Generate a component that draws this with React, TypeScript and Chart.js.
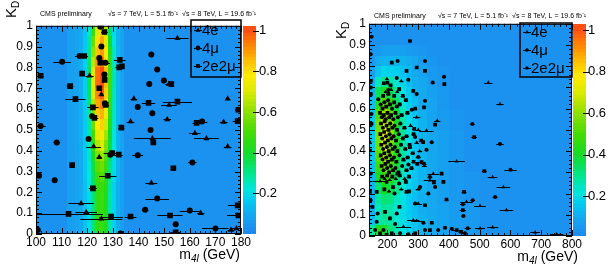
import React, { useEffect, useRef } from "react";
import { Chart, registerables } from "chart.js";
Chart.register(...registerables);

const FONT = "'Liberation Sans', Arial, Helvetica, sans-serif";

type Pt = [number, number, number]; // m4l, KD, m4l error

// ---------------- shared data ----------------
const seriesLabels = ["4e", "4\u03bc", "2e2\u03bc"];
const kdTicks = [0, 0.1, 0.2, 0.3, 0.4, 0.5, 0.6, 0.7, 0.8, 0.9, 1];
const cbTicks = [0.2, 0.4, 0.6, 0.8, 1];
const kdEdges = [0, 0.05, 0.1, 0.15, 0.2, 0.25, 0.3, 0.35, 0.4, 0.45, 0.5, 0.55, 0.6, 0.65, 0.7, 0.75, 0.8, 0.85, 0.9, 0.95, 1];
const headerLeft = "CMS preliminary";
const headerRight = "\u221as = 7 TeV, L = 5.1 fb\u207b\u00b9  \u221as = 8 TeV, L = 19.6 fb\u207b\u00b9";

// ---------------- left panel: 100-180 GeV ----------------
const leftXTicks = [100, 110, 120, 130, 140, 150, 160, 170, 180];
const leftBgZ = 0.03;
const leftHeatXEdges = [112, 113.6, 115.2, 116.8, 118.4, 120, 121.6, 123.2, 124.8, 126.4, 128, 129.6, 131.2, 132.8, 134.4];
// rows from KD 0-0.05 (first) up to 0.95-1 (last)
const leftHeatZ = [
  [0.07, 0.07, 0.08, 0.1, 0.15, 0.2, 0.33, 0.45, 0.47, 0.42, 0.28, 0.18, 0.11, 0.07],
  [0.07, 0.07, 0.08, 0.1, 0.15, 0.2, 0.33, 0.45, 0.47, 0.42, 0.28, 0.18, 0.11, 0.07],
  [0.07, 0.07, 0.08, 0.1, 0.15, 0.2, 0.33, 0.45, 0.47, 0.42, 0.28, 0.18, 0.11, 0.07],
  [0.07, 0.07, 0.08, 0.1, 0.15, 0.2, 0.33, 0.45, 0.48, 0.42, 0.28, 0.18, 0.11, 0.07],
  [0.07, 0.07, 0.08, 0.1, 0.15, 0.21, 0.34, 0.46, 0.48, 0.43, 0.29, 0.18, 0.11, 0.07],
  [0.07, 0.07, 0.08, 0.1, 0.16, 0.22, 0.36, 0.48, 0.52, 0.45, 0.3, 0.19, 0.12, 0.07],
  [0.07, 0.07, 0.08, 0.1, 0.16, 0.23, 0.38, 0.52, 0.56, 0.48, 0.32, 0.2, 0.12, 0.07],
  [0.07, 0.07, 0.08, 0.1, 0.16, 0.24, 0.42, 0.58, 0.62, 0.52, 0.35, 0.2, 0.12, 0.07],
  [0.07, 0.07, 0.08, 0.11, 0.17, 0.26, 0.46, 0.65, 0.7, 0.58, 0.38, 0.22, 0.12, 0.08],
  [0.07, 0.07, 0.08, 0.11, 0.17, 0.27, 0.5, 0.72, 0.76, 0.63, 0.4, 0.22, 0.12, 0.08],
  [0.07, 0.07, 0.08, 0.11, 0.17, 0.28, 0.55, 0.78, 0.82, 0.68, 0.43, 0.24, 0.13, 0.08],
  [0.07, 0.07, 0.08, 0.11, 0.17, 0.3, 0.6, 0.83, 0.87, 0.73, 0.45, 0.25, 0.13, 0.08],
  [0.07, 0.07, 0.08, 0.11, 0.17, 0.32, 0.65, 0.88, 0.93, 0.78, 0.48, 0.25, 0.13, 0.08],
  [0.07, 0.07, 0.08, 0.11, 0.18, 0.34, 0.7, 0.93, 0.98, 0.82, 0.5, 0.26, 0.13, 0.08],
  [0.07, 0.07, 0.08, 0.11, 0.18, 0.35, 0.72, 0.96, 1.0, 0.85, 0.5, 0.27, 0.13, 0.08],
  [0.07, 0.07, 0.08, 0.11, 0.18, 0.35, 0.72, 0.96, 1.0, 0.85, 0.5, 0.27, 0.13, 0.08],
  [0.07, 0.07, 0.08, 0.11, 0.18, 0.33, 0.66, 0.9, 0.95, 0.8, 0.48, 0.26, 0.13, 0.08],
  [0.07, 0.07, 0.08, 0.11, 0.17, 0.3, 0.6, 0.84, 0.9, 0.75, 0.45, 0.25, 0.13, 0.08],
  [0.07, 0.07, 0.08, 0.1, 0.16, 0.28, 0.55, 0.8, 0.88, 0.72, 0.4, 0.22, 0.12, 0.08],
  [0.07, 0.07, 0.08, 0.1, 0.15, 0.25, 0.48, 0.7, 0.8, 0.65, 0.35, 0.2, 0.12, 0.08],
];
const left4e: Pt[] = [
  [155.2, 0.94, 4.4], [120.9, 0.76, 1.6], [151.9, 0.72, 1.5], [125.5, 0.67, 1.0], [138.2, 0.65, 1.3],
  [151.9, 0.62, 3.0], [151.2, 0.55, 1.5], [136.9, 0.54, 1.5], [173.2, 0.538, 1.5], [162.0, 0.484, 2.2],
  [166.5, 0.459, 4.8], [145.4, 0.459, 7.2], [122.5, 0.42, 2.9], [174.8, 0.42, 1.5], [124.7, 0.369, 1.0],
  [145.0, 0.245, 2.3], [117.6, 0.147, 4.9], [119.6, 0.105, 4.2], [125.5, 0.073, 8.2], [164.3, 0.1, 1.4],
  [176.1, 0.019, 1.3], [178.2, 0.027, 1.7], [174.8, 0.65, 1.0],
];
const left4mu: Pt[] = [
  [125.1, 0.995, 1.0], [125.5, 0.9, 0.8], [145.0, 0.8625, 0.8], [117.0, 0.855, 1.8], [124.7, 0.845, 0.8],
  [127.1, 0.823, 1.8], [110.2, 0.827, 3.4], [147.3, 0.79, 1.0], [126.7, 0.766, 1.0], [149.9, 0.737, 1.0],
  [144.2, 0.72, 0.8], [126.9, 0.628, 1.0], [139.7, 0.61, 1.0], [145.4, 0.58, 1.0], [121.9, 0.565, 1.0],
  [164.8, 0.54, 2.1], [101.8, 0.519, 2.0], [144.7, 0.5, 1.0], [120.5, 0.456, 0.8], [108.1, 0.44, 1.3],
  [129.0, 0.381, 1.0], [139.7, 0.378, 2.1], [161.0, 0.344, 1.6], [101.2, 0.28, 0.8], [107.3, 0.258, 0.8],
  [147.3, 0.17, 4.6], [142.6, 0.116, 1.3], [160.0, 0.1125, 3.9], [154.5, 0.047, 1.0], [133.0, 0.003, 1.0],
  [170.0, 0.027, 5.2], [100.7, 0.019, 0.8],
];
const left2e2mu: Pt[] = [
  [126.7, 0.97, 1.3], [118.8, 0.855, 1.5], [125.1, 0.823, 0.8], [132.7, 0.836, 2.3], [132.5, 0.8, 1.5],
  [133.5, 0.805, 1.0], [118.0, 0.77, 1.0], [126.8, 0.74, 0.8], [101.8, 0.76, 1.3], [152.8, 0.72, 1.0],
  [113.3, 0.71, 1.3], [124.7, 0.7, 0.8], [115.4, 0.648, 3.9], [155.2, 0.636, 5.7], [143.9, 0.63, 2.6],
  [127.2, 0.62, 1.3], [122.2, 0.608, 2.2], [179.0, 0.597, 1.3], [122.8, 0.558, 1.5], [162.7, 0.534, 1.6],
  [178.7, 0.542, 2.0], [133.3, 0.511, 1.2], [145.8, 0.44, 1.0], [129.7, 0.389, 3.3], [132.3, 0.381, 1.6],
  [114.1, 0.331, 1.0], [153.6, 0.316, 1.0], [128.0, 0.28, 3.4], [122.2, 0.219, 1.6], [178.7, 0.1375, 3.8],
  [112.7, 0.097, 13.4], [129.3, 0.084, 4.6], [136.9, 0.084, 2.3], [152.3, 0.089, 4.9], [179.0, 0.089, 4.5],
  [154.5, 0.008, 2.0],
];

// ---------------- right panel: 140-800 GeV ----------------
const rightXTicks = [200, 300, 400, 500, 600, 700, 800];
const rightBgZ = 0.03;
const rightHeatXEdges = [140, 160, 180, 200, 220, 240, 260, 280, 300, 330, 360, 400, 450, 500];
// rows from KD 0-0.05 (first) up to 0.95-1 (last)
const rightHeatZ = [
  [0.28, 0.42, 0.4, 0.32, 0.26, 0.21, 0.18, 0.15, 0.12, 0.1, 0.08, 0.06, 0.05],
  [0.14, 0.26, 0.29, 0.27, 0.23, 0.2, 0.17, 0.15, 0.12, 0.1, 0.08, 0.06, 0.05],
  [0.12, 0.25, 0.29, 0.27, 0.23, 0.2, 0.17, 0.14, 0.11, 0.09, 0.08, 0.06, 0.05],
  [0.12, 0.28, 0.33, 0.31, 0.25, 0.21, 0.17, 0.14, 0.11, 0.09, 0.07, 0.05, 0.04],
  [0.12, 0.33, 0.4, 0.37, 0.3, 0.23, 0.18, 0.15, 0.12, 0.09, 0.07, 0.05, 0.04],
  [0.13, 0.4, 0.47, 0.44, 0.34, 0.25, 0.19, 0.15, 0.12, 0.09, 0.07, 0.05, 0.04],
  [0.14, 0.47, 0.55, 0.5, 0.38, 0.27, 0.2, 0.16, 0.12, 0.09, 0.07, 0.05, 0.03],
  [0.15, 0.52, 0.62, 0.55, 0.41, 0.28, 0.21, 0.16, 0.12, 0.09, 0.07, 0.05, 0.03],
  [0.16, 0.56, 0.68, 0.58, 0.42, 0.29, 0.21, 0.16, 0.12, 0.09, 0.07, 0.05, 0.03],
  [0.16, 0.58, 0.72, 0.6, 0.43, 0.29, 0.21, 0.16, 0.12, 0.09, 0.07, 0.05, 0.03],
  [0.16, 0.56, 0.69, 0.58, 0.41, 0.28, 0.2, 0.16, 0.12, 0.08, 0.06, 0.04, 0.03],
  [0.15, 0.51, 0.61, 0.53, 0.38, 0.26, 0.19, 0.15, 0.11, 0.08, 0.06, 0.04, 0.03],
  [0.14, 0.44, 0.52, 0.45, 0.33, 0.23, 0.17, 0.14, 0.1, 0.08, 0.05, 0.03, 0.03],
  [0.12, 0.35, 0.41, 0.36, 0.28, 0.21, 0.16, 0.12, 0.1, 0.07, 0.05, 0.03, 0.03],
  [0.1, 0.25, 0.3, 0.27, 0.23, 0.18, 0.14, 0.11, 0.09, 0.06, 0.04, 0.03, 0.03],
  [0.07, 0.15, 0.19, 0.18, 0.17, 0.15, 0.13, 0.1, 0.08, 0.05, 0.04, 0.03, 0.03],
  [0.05, 0.1, 0.12, 0.12, 0.12, 0.12, 0.11, 0.09, 0.06, 0.04, 0.03, 0.03, 0.03],
  [0.04, 0.05, 0.07, 0.07, 0.07, 0.07, 0.06, 0.05, 0.04, 0.03, 0.03, 0.03, 0.03],
  [0.03, 0.03, 0.03, 0.03, 0.03, 0.03, 0.03, 0.03, 0.03, 0.03, 0.03, 0.03, 0.03],
  [0.03, 0.03, 0.03, 0.03, 0.03, 0.03, 0.03, 0.03, 0.03, 0.03, 0.03, 0.03, 0.03],
];
const right4e: Pt[] = [
  [528, 0.723, 13], [566, 0.622, 12], [425, 0.352, 27], [542, 0.278, 16], [577, 0.231, 22], [587, 0.122, 22],
  [501, 0.142, 19], [457, 0.161, 20], [542, 0.041, 18], [501, 0.036, 16], [680, 0.017, 16], [750, 0.008, 22],
  [349, 0.294, 18], [327, 0.497, 24], [176, 0.259, 25], [300, 0.153, 12], [284, 0.075, 20], [295, 0.072, 18],
  [252, 0.044, 25], [295, 0.559, 12], [362, 0.544, 10], [338, 0.2625, 20],
  [191, 0.27, 5], [207, 0.265, 6], [227, 0.27, 6], [256, 0.27, 7], [194, 0.68, 5], [212, 0.69, 6], [232, 0.68, 6],
  [198, 0.74, 5], [245, 0.73, 7], [205, 0.21, 6], [245, 0.22, 7], [300, 0.22, 8], [300, 0.5, 8], [305, 0.4, 8],
  [320, 0.33, 8], [275, 0.52, 7], [295, 0.44, 7],
];
const right4mu: Pt[] = [
  [148.7, 0.939, 4], [145.4, 0.856, 3], [476, 0.528, 8], [566, 0.434, 12], [600, 0.3125, 20], [550, 0.184, 8],
  [477, 0.169, 7], [445, 0.15, 9], [447, 0.094, 6], [461, 0.036, 10], [452, 0.0125, 10], [409, 0.034, 6],
  [355, 0.231, 6], [338, 0.278, 8], [319, 0.34, 8], [327, 0.406, 6], [344, 0.442, 6], [384, 0.75, 6],
  [347, 0.723, 6], [322, 0.825, 5], [268, 0.736, 5], [233, 0.825, 5], [230, 0.744, 5], [203, 0.6875, 5],
  [295, 0.669, 5], [322, 0.6375, 5], [279, 0.595, 6], [290, 0.466, 6], [300, 0.372, 8], [268, 0.3375, 6],
  [306, 0.231, 6], [238, 0.247, 6], [197, 0.255, 5], [223, 0.2, 5], [290, 0.153, 6], [333, 0.2, 6],
  [230, 0.106, 6], [168, 0.106, 5], [145, 0.169, 4], [146, 0.294, 4], [141, 0.442, 3], [148, 0.575, 4],
  [146, 0.7, 4], [170, 0.645, 5], [317, 0.0625, 6], [241, 0.0125, 6], [268, 0.008, 6], [322, 0.028, 6],
  [365, 0.028, 6], [160, 0.028, 4], [187, 0.028, 5], [165, 0.067, 5], [225, 0.056, 5],
  [178, 0.62, 5], [190, 0.63, 5], [202, 0.64, 6], [215, 0.6, 5], [230, 0.61, 6], [182, 0.56, 5], [194, 0.55, 5],
  [206, 0.56, 6], [219, 0.55, 5], [234, 0.56, 6], [185, 0.51, 5], [197, 0.52, 5], [209, 0.53, 6], [223, 0.52, 5],
  [242, 0.53, 6], [183, 0.46, 5], [195, 0.47, 5], [207, 0.48, 6], [220, 0.47, 5], [237, 0.48, 6], [186, 0.41, 5],
  [198, 0.42, 5], [210, 0.43, 6], [224, 0.42, 5], [244, 0.43, 6], [184, 0.36, 5], [196, 0.37, 5], [208, 0.38, 6],
  [221, 0.37, 5], [239, 0.38, 6], [187, 0.31, 5], [199, 0.32, 5], [211, 0.33, 6], [226, 0.32, 5], [248, 0.33, 6],
];
const right2e2mu: Pt[] = [
  [273.3, 0.919, 5], [482, 0.466, 9], [515, 0.306, 8], [449, 0.208, 8], [445, 0.122, 10], [439, 0.02, 8],
  [425, 0.028, 16], [392, 0.172, 6], [382, 0.255, 6], [376, 0.294, 6], [297, 0.34, 6], [316, 0.442, 5],
  [355, 0.525, 6], [385, 0.716, 5], [322, 0.778, 5], [262, 0.778, 5], [295, 0.794, 5], [214, 0.817, 5],
  [200, 0.723, 5], [238, 0.692, 5], [284, 0.684, 5], [319, 0.606, 5], [287, 0.505, 6], [273, 0.419, 6],
  [311, 0.348, 8], [351, 0.252, 6], [260, 0.255, 6], [232, 0.294, 6], [165, 0.208, 5], [262, 0.208, 6],
  [322, 0.145, 6], [239, 0.1375, 6], [192, 0.114, 5], [151, 0.1375, 4], [143, 0.208, 4], [143, 0.403, 6],
  [148, 0.528, 4], [146, 0.731, 4], [146, 0.669, 4], [344, 0.0625, 6], [214, 0.0125, 5], [290, 0.0125, 6],
  [338, 0.028, 6], [387, 0.039, 6], [176, 0.0125, 4], [197, 0.005, 5], [208, 0.083, 5],
  [184, 0.6, 5], [196, 0.61, 5], [208, 0.62, 6], [222, 0.63, 5], [240, 0.62, 6], [176, 0.58, 5], [188, 0.57, 5],
  [200, 0.58, 6], [212, 0.57, 5], [226, 0.58, 6], [246, 0.57, 7], [179, 0.53, 5], [191, 0.54, 5], [203, 0.5, 6],
  [216, 0.51, 5], [231, 0.5, 6], [255, 0.51, 7], [177, 0.48, 5], [189, 0.49, 5], [201, 0.45, 6], [213, 0.46, 5],
  [228, 0.45, 6], [250, 0.46, 7], [262, 0.47, 7], [180, 0.43, 5], [192, 0.44, 5], [204, 0.4, 6], [217, 0.41, 5],
  [232, 0.4, 6], [258, 0.41, 7], [272, 0.43, 7], [178, 0.38, 5], [190, 0.39, 5], [202, 0.35, 6], [214, 0.36, 5],
  [229, 0.35, 6], [252, 0.36, 7], [266, 0.37, 7], [282, 0.39, 7], [181, 0.33, 5], [193, 0.34, 5], [205, 0.3, 6],
  [218, 0.31, 5], [236, 0.3, 6], [262, 0.31, 7], [278, 0.32, 7], [183, 0.28, 5], [199, 0.285, 6], [216, 0.28, 6],
  [240, 0.285, 7], [270, 0.28, 7], [186, 0.66, 5], [203, 0.67, 6], [222, 0.66, 6], [250, 0.66, 7], [188, 0.72, 5],
  [210, 0.71, 6], [190, 0.22, 5], [218, 0.23, 6], [270, 0.21, 7], [290, 0.6, 7], [310, 0.45, 8], [285, 0.35, 7],
  [265, 0.58, 7], [285, 0.48, 7], [260, 0.64, 7],
];

// ---------------- colour palette (ROOT-like rainbow) ----------------
const PAL: number[][] = [
  [0.0, 30, 135, 240], [0.1, 20, 170, 240], [0.17, 0, 205, 240], [0.22, 0, 230, 220], [0.3, 0, 230, 140],
  [0.4, 20, 220, 40], [0.5, 70, 220, 0], [0.6, 140, 225, 0], [0.7, 220, 235, 0], [0.78, 255, 235, 0],
  [0.85, 255, 190, 0], [0.92, 255, 140, 0], [1.0, 255, 80, 20],
];
function zColor(z: number): string {
  const v = Math.max(0, Math.min(1, z));
  for (let i = 1; i < PAL.length; i++) {
    if (v <= PAL[i][0]) {
      const a = PAL[i - 1], b = PAL[i];
      const t = (v - a[0]) / (b[0] - a[0]);
      const c = [1, 2, 3].map((k) => Math.round(a[k] + (b[k] - a[k]) * t));
      return `rgb(${c[0]},${c[1]},${c[2]})`;
    }
  }
  const l = PAL[PAL.length - 1];
  return `rgb(${l[1]},${l[2]},${l[3]})`;
}

interface Spec {
  left: number; width: number; height: number;
  area: { left: number; right: number; top: number; bottom: number };
  xMin: number; xMax: number; xTicks: number[]; xMinor: number;
  cbMin: number; cbMax: number; cbGap: number; cbW: number; cbPad: number;
  heatX: number[]; heatZ: number[][]; bgZ: number;
  series: Pt[][]; radii: number[];
  header: { x1: number; x2: number; y: number };
  kd: { x: number; y: number };
  xTitle: { right: number; y: number };
  legend: { x: number; y: number; w: number; h: number; rows: number[] };
  markerScale: number;
}

const markerStyles = ["triangle", "circle", "rect"];
const fmt = (v: number) => String(+Number(v).toFixed(2));

function drawMarker(ctx: CanvasRenderingContext2D, style: string, x: number, y: number, r: number) {
  ctx.beginPath();
  if (style === "circle") ctx.arc(x, y, r, 0, Math.PI * 2);
  else if (style === "rect") ctx.rect(x - r * 0.8, y - r * 0.8, r * 1.6, r * 1.6);
  else {
    ctx.moveTo(x, y - r * 1.1);
    ctx.lineTo(x + r, y + r * 0.7);
    ctx.lineTo(x - r, y + r * 0.7);
    ctx.closePath();
  }
  ctx.fill();
}

function makePlugin(spec: Spec) {
  return {
    id: "rootStyle",
    beforeDatasetsDraw(chart: any) {
      const { ctx, chartArea: a, scales } = chart;
      const xs = scales.x, ys = scales.y;
      ctx.save();
      ctx.beginPath();
      ctx.rect(a.left, a.top, a.right - a.left, a.bottom - a.top);
      ctx.clip();
      ctx.fillStyle = zColor(spec.bgZ);
      ctx.fillRect(a.left, a.top, a.right - a.left, a.bottom - a.top);
      for (let r = 0; r < spec.heatZ.length; r++) {
        const y0 = Math.round(ys.getPixelForValue(kdEdges[r]));
        const y1 = Math.round(ys.getPixelForValue(kdEdges[r + 1]));
        for (let c = 0; c < spec.heatZ[r].length; c++) {
          const x0 = Math.round(xs.getPixelForValue(spec.heatX[c]));
          const x1 = Math.round(xs.getPixelForValue(spec.heatX[c + 1]));
          ctx.fillStyle = zColor(spec.heatZ[r][c]);
          ctx.fillRect(x0, y1, x1 - x0, y0 - y1);
        }
      }
      // horizontal mass error bars
      ctx.strokeStyle = "#000";
      ctx.lineWidth = 1;
      ctx.beginPath();
      chart.data.datasets.forEach((ds: any) => {
        ds.data.forEach((p: any) => {
          const py = Math.round(ys.getPixelForValue(p.y)) + 0.5;
          ctx.moveTo(xs.getPixelForValue(p.x - p.xerr), py);
          ctx.lineTo(xs.getPixelForValue(p.x + p.xerr), py);
        });
      });
      ctx.stroke();
      ctx.restore();
    },
    afterDraw(chart: any) {
      const { ctx, chartArea: a, scales } = chart;
      const xs = scales.x, ys = scales.y, cb = scales.cb;
      ctx.save();
      // frame
      ctx.strokeStyle = "#000";
      ctx.lineWidth = 1;
      ctx.strokeRect(a.left + 0.5, a.top + 0.5, a.right - a.left - 1, a.bottom - a.top - 1);
      // inside ticks
      ctx.beginPath();
      const nX = Math.round((spec.xMax - spec.xMin) / spec.xMinor);
      for (let i = 0; i <= nX; i++) {
        const v = spec.xMin + i * spec.xMinor;
        const major = spec.xTicks.some((t) => Math.abs(t - v) < 1e-6);
        const L = major ? 6 : 3;
        const px = Math.round(xs.getPixelForValue(v)) + 0.5;
        ctx.moveTo(px, a.bottom); ctx.lineTo(px, a.bottom - L);
        ctx.moveTo(px, a.top); ctx.lineTo(px, a.top + L);
      }
      for (let i = 0; i <= 50; i++) {
        const v = i * 0.02;
        const L = i % 5 === 0 ? 6 : 3;
        const py = Math.round(ys.getPixelForValue(v)) + 0.5;
        ctx.moveTo(a.left, py); ctx.lineTo(a.left + L, py);
        ctx.moveTo(a.right, py); ctx.lineTo(a.right - L, py);
      }
      ctx.stroke();
      // colour bar
      const cx0 = a.right + spec.cbGap, cx1 = cx0 + spec.cbW;
      const nb = 60;
      for (let i = 0; i < nb; i++) {
        const z0 = spec.cbMin + ((spec.cbMax - spec.cbMin) * i) / nb;
        const z1 = spec.cbMin + ((spec.cbMax - spec.cbMin) * (i + 1)) / nb;
        const p0 = Math.round(cb.getPixelForValue(z0));
        const p1 = Math.round(cb.getPixelForValue(z1));
        ctx.fillStyle = zColor((z0 + z1) / 2);
        ctx.fillRect(cx0, p1, spec.cbW, p0 - p1);
      }
      ctx.beginPath();
      cbTicks.forEach((t) => {
        const py = Math.round(cb.getPixelForValue(t)) + 0.5;
        ctx.moveTo(cx1 - 3, py); ctx.lineTo(cx1 + 3, py);
      });
      ctx.stroke();
      // legend box
      const lg = spec.legend;
      ctx.lineWidth = 1.5;
      ctx.strokeRect(lg.x, lg.y, lg.w, lg.h);
      ctx.fillStyle = "#000";
      ctx.font = `15px ${FONT}`;
      ctx.textBaseline = "middle";
      ctx.textAlign = "left";
      ctx.lineWidth = 1;
      chart.data.datasets.forEach((ds: any, i: number) => {
        const yy = lg.rows[i];
        ctx.beginPath();
        ctx.moveTo(lg.x + 3, yy + 0.5); ctx.lineTo(lg.x + 11, yy + 0.5);
        ctx.stroke();
        drawMarker(ctx, markerStyles[i], lg.x + 7, yy, 1.6 * spec.markerScale);
        ctx.fillText(ds.label, lg.x + 11, yy + 1);
      });
      // header
      ctx.textBaseline = "alphabetic";
      ctx.font = `7px ${FONT}`;
      ctx.fillText(headerLeft, spec.header.x1, spec.header.y);
      ctx.fillText(headerRight, spec.header.x2, spec.header.y);
      // x title: m_{4l} (GeV)
      const big = `14px ${FONT}`, small = `italic 10px ${FONT}`;
      ctx.font = big;
      const wM = ctx.measureText("m").width;
      const wG = ctx.measureText(" (GeV)").width;
      ctx.font = small;
      const wS = ctx.measureText("4l").width;
      let xx = spec.xTitle.right - (wM + wS + wG);
      ctx.font = big;
      ctx.fillText("m", xx, spec.xTitle.y);
      xx += wM;
      ctx.font = small;
      ctx.fillText("4l", xx, spec.xTitle.y + 3);
      xx += wS;
      ctx.font = big;
      ctx.fillText(" (GeV)", xx, spec.xTitle.y);
      // y title: K_D (rotated)
      ctx.translate(spec.kd.x, spec.kd.y);
      ctx.rotate(-Math.PI / 2);
      ctx.font = `15px ${FONT}`;
      ctx.fillText("K", 0, 0);
      const wK = ctx.measureText("K").width;
      ctx.font = `10px ${FONT}`;
      ctx.fillText("D", wK, 3);
      ctx.restore();
    },
  };
}

function buildConfig(spec: Spec): any {
  const tickFont = { family: FONT, size: 12 };
  const noGrid = { display: false, drawTicks: false, tickLength: 0 };
  return {
    type: "scatter",
    data: {
      datasets: spec.series.map((pts, i) => ({
        label: seriesLabels[i],
        data: pts.map((p) => ({ x: p[0], y: p[1], xerr: p[2] })),
        pointStyle: markerStyles[i],
        pointRadius: spec.radii[i],
        pointBackgroundColor: "#000",
        pointBorderColor: "#000",
        pointBorderWidth: 0,
        showLine: false,
      })),
    },
    options: {
      responsive: false,
      animation: false,
      devicePixelRatio: 1,
      events: [],
      layout: { padding: { top: spec.area.top, left: 0, right: 0, bottom: 0 } },
      plugins: { legend: { display: false }, tooltip: { enabled: false }, title: { display: false } },
      scales: {
        x: {
          type: "linear", position: "bottom", min: spec.xMin, max: spec.xMax,
          grid: noGrid, border: { display: false },
          ticks: { color: "#000", font: tickFont, padding: 1, maxRotation: 0, autoSkip: false, callback: fmt },
          afterBuildTicks: (s: any) => { s.ticks = spec.xTicks.map((v) => ({ value: v })); },
          afterFit: (s: any) => { s.height = spec.height - spec.area.bottom; },
        },
        y: {
          type: "linear", position: "left", min: 0, max: 1,
          grid: noGrid, border: { display: false },
          ticks: { color: "#000", font: tickFont, padding: 3, autoSkip: false, callback: fmt },
          afterBuildTicks: (s: any) => { s.ticks = kdTicks.map((v) => ({ value: v })); },
          afterFit: (s: any) => { s.width = spec.area.left; },
        },
        cb: {
          type: "linear", axis: "y", position: "right", min: spec.cbMin, max: spec.cbMax,
          grid: noGrid, border: { display: false },
          ticks: { color: "#000", font: { family: FONT, size: 13 }, padding: spec.cbPad, autoSkip: false, callback: fmt },
          afterBuildTicks: (s: any) => { s.ticks = cbTicks.map((v) => ({ value: v })); },
          afterFit: (s: any) => { s.width = spec.width - spec.area.right; },
        },
      },
    },
    plugins: [makePlugin(spec)],
  };
}

const leftSpec: Spec = {
  left: 0, width: 304, height: 269,
  area: { left: 36, right: 241, top: 20, bottom: 234 },
  xMin: 100, xMax: 180, xTicks: leftXTicks, xMinor: 2,
  cbMin: 0, cbMax: 1.024, cbGap: 2, cbW: 13, cbPad: 18,
  heatX: leftHeatXEdges, heatZ: leftHeatZ, bgZ: leftBgZ,
  series: [left4e, left4mu, left2e2mu], radii: [3.5, 3, 4],
  header: { x1: 40, x2: 108, y: 16 },
  kd: { x: 16, y: 18 },
  xTitle: { right: 240, y: 259 },
  legend: { x: 191, y: 20, w: 50, h: 57, rows: [30, 48, 66] },
  markerScale: 1.5,
};

const rightSpec: Spec = {
  left: 304, width: 305, height: 269,
  area: { left: 65, right: 268, top: 23, bottom: 236 },
  xMin: 140, xMax: 800, xTicks: rightXTicks, xMinor: 20,
  cbMin: 0.01, cbMax: 1.03, cbGap: 1, cbW: 13, cbPad: 16,
  heatX: rightHeatXEdges, heatZ: rightHeatZ, bgZ: rightBgZ,
  series: [right4e, right4mu, right2e2mu], radii: [2.3, 2, 2.6],
  header: { x1: 70, x2: 134, y: 18 },
  kd: { x: 42, y: 39 },
  xTitle: { right: 274, y: 261 },
  legend: { x: 216, y: 23, w: 52, h: 54, rows: [32, 50, 68] },
  markerScale: 1.1,
};

function Panel({ spec }: { spec: Spec }) {
  const ref = useRef<HTMLCanvasElement>(null);
  useEffect(() => {
    const chart = new Chart(ref.current as HTMLCanvasElement, buildConfig(spec));
    return () => chart.destroy();
  }, [spec]);
  return (
    <canvas
      ref={ref}
      width={spec.width}
      height={spec.height}
      style={{ position: "absolute", left: spec.left, top: 0, width: spec.width, height: spec.height }}
    />
  );
}

export default function App() {
  return (
    <div style={{ position: "absolute", left: 0, top: 0, width: 609, height: 269, background: "#fff" }}>
      <Panel spec={leftSpec} />
      <Panel spec={rightSpec} />
    </div>
  );
}
